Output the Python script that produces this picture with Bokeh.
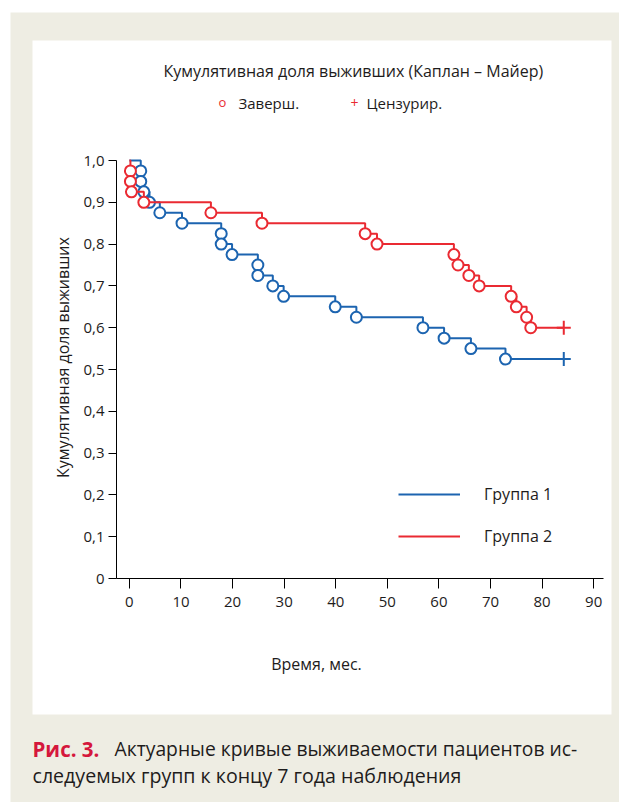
import numpy as np
from bokeh.plotting import figure
from bokeh.models import (Label, BoxAnnotation, FixedTicker, CustomJSTickFormatter,
                          Legend, LegendItem, Range1d, LinearAxis)
from bokeh.embed import file_html
from bokeh.resources import INLINE

# ---------------- data ----------------
group1_name = "Группа 1"
group1_times = [2.2, 2.2, 2.8, 3.9, 5.9, 10.2, 17.8, 17.8, 19.9, 24.9, 24.9,
                27.8, 29.9, 39.9, 44.0, 56.9, 61.0, 66.2, 72.9]
group1_surv = [0.975, 0.95, 0.925, 0.9, 0.875, 0.85, 0.825, 0.8, 0.775, 0.75,
               0.725, 0.7, 0.675, 0.65, 0.625, 0.6, 0.575, 0.55, 0.525]
group1_censor = [84.2]

group2_name = "Группа 2"
group2_times = [0.2, 0.2, 0.4, 2.8, 15.8, 25.7, 45.7, 48.0, 62.9, 63.7, 65.8,
                67.8, 74.0, 75.0, 77.0, 77.8]
group2_surv = [0.975, 0.95, 0.925, 0.9, 0.875, 0.85, 0.825, 0.8, 0.775, 0.75,
               0.725, 0.7, 0.675, 0.65, 0.625, 0.6]
group2_censor = [84.2]

x_ticks = [0, 10, 20, 30, 40, 50, 60, 70, 80, 90]
y_ticks = [0, 0.1, 0.2, 0.3, 0.4, 0.5, 0.6, 0.7, 0.8, 0.9, 1.0]

title_text = "Кумулятивная доля выживших (Каплан – Майер)"
legend_event = "Заверш."
legend_censor = "Цензурир."
x_label = "Время, мес."
y_label = "Кумулятивная доля выживших"
caption_head = "Рис. 3."
caption_line1 = "Актуарные кривые выживаемости пациентов ис-"
caption_line2 = "следуемых групп к концу 7 года наблюдения"

# ---------------- styling ----------------
FONT = "Open Sans"
BLUE = "#1c64b0"
RED = "#ea2a32"
BEIGE = "#eeede3"
CAPTION_RED = "#d5173c"
TXT = "#1e1c1c"

W, H = 619, 802
# plot area (axes box) in canvas pixels
AX_L, AX_R, AX_T, AX_B = 116, 603, 155, 578
XA0, XA1 = -2.5, 91.9          # x data at axes box left / right
YA0, YA1 = 0.0, 1.012          # y data at axes box bottom / top
sx = (AX_R - AX_L) / (XA1 - XA0)
sy = (AX_B - AX_T) / (YA1 - YA0)
X0, X1 = XA0 - AX_L / sx, XA1 + (W - AX_R) / sx
Y0, Y1 = YA0 - (H - AX_B) / sy, YA1 + AX_T / sy

p = figure(width=W, height=H, output_backend="svg", toolbar_location=None,
           x_range=Range1d(X0, X1), y_range=Range1d(Y0, Y1),
           x_axis_location=None, y_axis_location=None,
           min_border=0, border_fill_color="white",
           background_fill_color="white", outline_line_color=None)
p.grid.visible = False


def box(l, r, t, b, color):
    p.add_layout(BoxAnnotation(left=l, right=r, top=t, bottom=b,
                               left_units="canvas", right_units="canvas",
                               top_units="canvas", bottom_units="canvas",
                               fill_color=color, fill_alpha=1.0, line_color=None,
                               level="underlay"))


box(10, W, 12, H, BEIGE)      # beige frame
box(32, 611, 40, 714, "white")  # white chart panel

# axes drawn at fixed positions inside the canvas
xaxis = LinearAxis(fixed_location=YA0, bounds=(XA0, XA1),
                   ticker=FixedTicker(ticks=x_ticks))
yaxis = LinearAxis(fixed_location=XA0, bounds=(0, 1),
                   ticker=FixedTicker(ticks=y_ticks),
                   formatter=CustomJSTickFormatter(
                       code="return tick == 0 ? '0' : tick.toFixed(1).replace('.', ',');"))
for ax in (xaxis, yaxis):
    ax.axis_line_color = "black"
    ax.axis_line_width = 1
    ax.major_tick_line_color = "black"
    ax.major_tick_in = 0
    ax.minor_tick_line_color = None
    ax.major_label_text_font = FONT
    ax.major_label_text_font_size = "15px"
    ax.major_label_text_color = TXT
xaxis.major_tick_out = 10
xaxis.major_label_standoff = 8
yaxis.major_tick_out = 8
yaxis.major_label_standoff = 4
p.add_layout(xaxis, "below")
p.add_layout(yaxis, "left")


def km_path(times, surv, t_end):
    xs, ys = [0.0], [1.0]
    prev = 1.0
    for t, s in zip(times, surv):
        xs += [t, t]
        ys += [prev, s]
        prev = s
    xs.append(t_end)
    ys.append(prev)
    return xs, ys


renderers = []
for times, surv, cens, col in ((group1_times, group1_surv, group1_censor, BLUE),
                               (group2_times, group2_surv, group2_censor, RED)):
    xs, ys = km_path(times, surv, cens[-1])
    r = p.line(xs, ys, line_color=col, line_width=2)
    renderers.append(r)
    p.scatter(times, surv, marker="circle", size=11, fill_color="white",
              line_color=col, line_width=2)
    p.scatter(cens, [surv[-1]] * len(cens), marker="cross", size=14,
              line_color=col, line_width=2)

legend = Legend(items=[LegendItem(label=group1_name, renderers=[renderers[0]]),
                       LegendItem(label=group2_name, renderers=[renderers[1]])],
                location=(398, H - 547), glyph_width=62, glyph_height=20,
                label_standoff=24, spacing=20, padding=0, margin=0,
                border_line_color=None, background_fill_alpha=0,
                label_text_font=FONT, label_text_font_size="16px",
                label_text_color=TXT)
p.add_layout(legend)


def lab(text, cx, cy, size="16px", color=TXT, align="left", style="normal", angle=0):
    p.add_layout(Label(x=cx, y=cy, x_units="canvas", y_units="canvas", text=text,
                       text_font=FONT, text_font_size=size, text_color=color,
                       text_align=align, text_baseline="middle",
                       text_font_style=style, angle=angle))


lab(title_text, 163, 70)
lab("o", 222, 101, size="13px", color=RED, align="center")
lab(legend_event, 238, 102, size="15px")
lab("+", 354, 102, size="14px", color=RED, align="center")
lab(legend_censor, 366, 102, size="15px")
lab(y_label, 62, 357, align="center", angle=np.pi / 2)
lab(x_label, 316, 663, align="center")
lab(caption_head, 32, 748, size="20.5px", color=CAPTION_RED, style="bold")
lab(caption_line1, 114, 748, size="19.3px")
lab(caption_line2, 32, 775, size="19.6px")

open("out.html", "w").write(file_html(p, INLINE))
